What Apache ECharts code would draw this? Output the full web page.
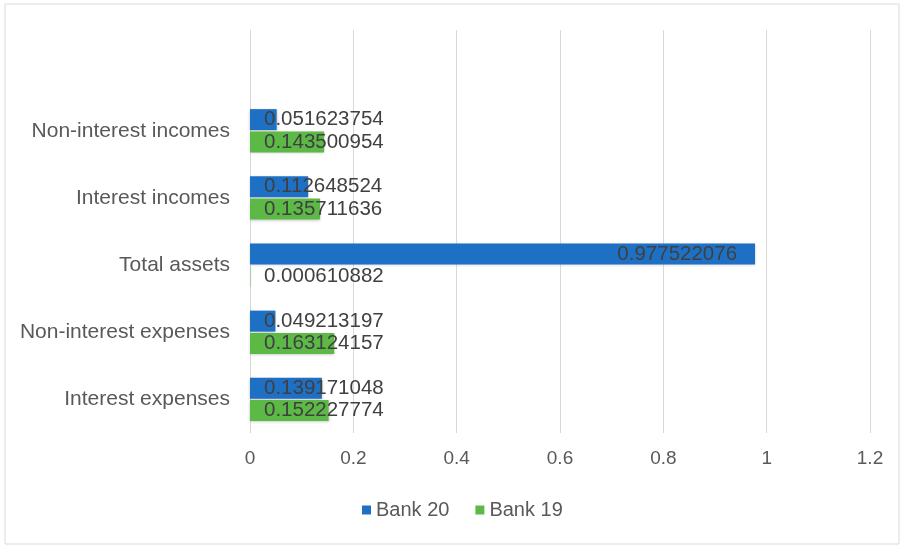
<!DOCTYPE html>
<html>
<head>
<meta charset="utf-8">
<script src="https://cdn.jsdelivr.net/npm/echarts@6/dist/echarts.min.js"></script>
<style>html,body{margin:0;padding:0;background:#fff}#c{width:905px;height:547px}</style>
</head>
<body>
<div id="c"></div>
<script>
// Categories from bottom to top (last one empty, as in the reference)
var categories = ['Interest expenses', 'Non-interest expenses', 'Total assets', 'Interest incomes', 'Non-interest incomes', ''];
var bank20 = [0.139171048, 0.049213197, 0.977522076, 0.112648524, 0.051623754, null];
var bank19 = [0.152227774, 0.163124157, 0.000610882, 0.135711636, 0.143500954, null];
var xTicks = [0, 0.2, 0.4, 0.6, 0.8, 1, 1.2];

var FONT = 'Liberation Sans';
var chart = echarts.init(document.getElementById('c'));

function mkData(arr) {
  return arr.map(function (v) {
    if (v === null) return null;
    if (v > 0.5) {
      return { value: v, label: { position: 'insideRight', distance: 18 } };
    }
    return v;
  });
}

var labelBase = {
  show: true,
  position: [14, '50%'],
  verticalAlign: 'middle',
  color: '#404040',
  fontFamily: FONT,
  fontSize: 20.5,
  formatter: function (p) { return String(p.value); }
};

chart.setOption({
  animation: false,
  backgroundColor: '#fff',
  graphic: [{
    type: 'rect',
    shape: { x: 5, y: 4, width: 894, height: 540 },
    style: { fill: 'none', stroke: '#d9d9d9', lineWidth: 1 }
  }],
  legend: {
    data: ['Bank 20', 'Bank 19'],
    bottom: 22,
    left: 357,
    itemWidth: 9,
    itemHeight: 9,
    itemGap: 26,
    icon: 'rect',
    textStyle: { color: '#595959', fontFamily: FONT, fontSize: 20 }
  },
  grid: { left: 250, right: 35, top: 30, bottom: 114, containLabel: false },
  xAxis: {
    type: 'value',
    min: 0,
    max: 1.2,
    interval: 0.2,
    axisLine: { show: false },
    axisTick: { show: false },
    splitLine: { lineStyle: { color: '#d9d9d9', width: 1 } },
    axisLabel: {
      color: '#595959', fontFamily: FONT, fontSize: 19, margin: 16,
      formatter: function (v) {
        for (var i = 0; i < xTicks.length; i++) {
          if (Math.abs(xTicks[i] - v) < 1e-9) return String(xTicks[i]);
        }
        return '';
      }
    }
  },
  yAxis: {
    type: 'category',
    data: categories,
    axisLine: { show: false },
    axisTick: { show: false },
    axisLabel: { color: '#595959', fontFamily: FONT, fontSize: 21, margin: 20 }
  },
  series: [
    {
      name: 'Bank 20',
      type: 'bar',
      data: mkData(bank20),
      barWidth: 21,
      barGap: '6%',
      itemStyle: { color: '#1E70C4', shadowColor: 'rgba(0,0,0,0.25)', shadowBlur: 3, shadowOffsetY: 1 },
      label: labelBase
    },
    {
      name: 'Bank 19',
      type: 'bar',
      data: mkData(bank19),
      barWidth: 21,
      barGap: '6%',
      itemStyle: { color: '#5CB946', shadowColor: 'rgba(0,0,0,0.25)', shadowBlur: 3, shadowOffsetY: 1 },
      label: labelBase
    }
  ]
});
</script>
</body>
</html>
